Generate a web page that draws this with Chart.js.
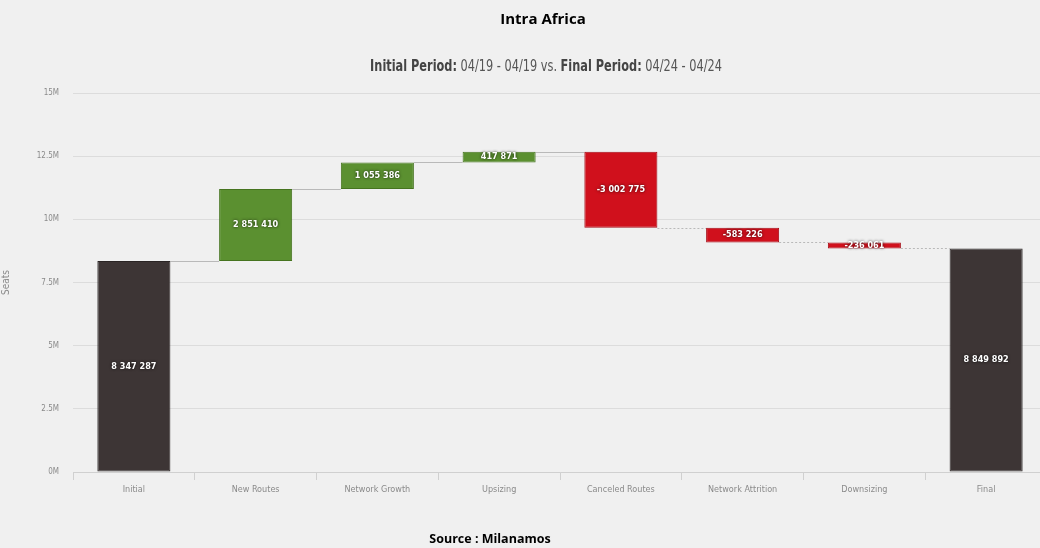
<!DOCTYPE html>
<html>
<head>
<meta charset="utf-8">
<script src="https://cdn.jsdelivr.net/npm/chart.js@4.4.1/dist/chart.umd.min.js"></script>
<style>
  html, body { margin: 0; padding: 0; background: #f0f0f0; overflow: hidden; }
  #wrap { position: relative; width: 1040px; height: 548px; overflow: hidden; }
  #title { position: absolute; top: 8px; left: 43px; width: 1000px; text-align: center;
    font: bold 15px "Open Sans", sans-serif; color: #000; }
  #subtitle { position: absolute; top: 57px; left: 46px; width: 1000px; text-align: center;
    font: 15px "DejaVu Sans Condensed", sans-serif; color: #555;
    transform: scaleX(0.84); transform-origin: 500px 0; }
  #subtitle b { color: #444; }
  #source { position: absolute; top: 530px; left: -10px; width: 1000px; text-align: center;
    font: bold 12.5px "Open Sans", sans-serif; color: #000; }
  canvas { position: absolute; top: 0; left: 0; }
</style>
</head>
<body>
<div id="wrap">
  <canvas id="chart" width="1047" height="548"></canvas>
  <div id="title">Intra Africa</div>
  <div id="subtitle"><b>Initial Period:</b> 04/19 - 04/19 vs. <b>Final Period:</b> 04/24 - 04/24</div>
  <div id="source">Source : Milanamos</div>
</div>
<script>
// ------------------ DATA ------------------
const categories = ["Initial", "New Routes", "Network Growth", "Upsizing", "Canceled Routes", "Network Attrition", "Downsizing", "Final"];
const changes = [8347287, 2851410, 1055386, 417871, -3002775, -583226, -236061, 8849892];
const kinds = ["total", "up", "up", "up", "down", "down", "down", "total"];
const yTicks = [0, 2500000, 5000000, 7500000, 10000000, 12500000, 15000000];

const colors = { total: "#3d3535", up: "#5b9030", down: "#d0101c" };
const borders = { total: "#2a2424", up: "#46741f", down: "#a50a14" };

// ------------------ BUILD FLOATING BARS ------------------
let running = 0;
const ranges = [];
changes.forEach((v, i) => {
  if (kinds[i] === "total") {
    ranges.push([0, v]);
    running = v;
  } else {
    ranges.push([running, running + v]);
    running += v;
  }
});

function fmt(n) {
  const s = Math.abs(n).toString().replace(/\B(?=(\d{3})+(?!\d))/g, " ");
  return (n < 0 ? "-" : "") + s;
}

const condensed = '"DejaVu Sans Condensed", sans-serif';

// ------------------ CONNECTORS + LABELS ------------------
const waterfallPlugin = {
  id: "waterfall",
  beforeDatasetsDraw(chart) {
    const { ctx, scales: { y } } = chart;
    const meta = chart.getDatasetMeta(0);
    ctx.save();
    ctx.lineWidth = 1;
    ctx.strokeStyle = "#b9b9b9";
    for (let i = 0; i < ranges.length - 1; i++) {
      const bar = meta.data[i], next = meta.data[i + 1];
      const yy = Math.round(y.getPixelForValue(ranges[i][1])) + 0.5;
      ctx.setLineDash(kinds[i] === "down" ? [2, 2] : []);
      ctx.beginPath();
      ctx.moveTo(bar.x + bar.width / 2, yy);
      ctx.lineTo(next.x - next.width / 2, yy);
      ctx.stroke();
    }
    ctx.restore();
  },
  afterDatasetsDraw(chart) {
    const { ctx } = chart;
    const meta = chart.getDatasetMeta(0);
    ctx.save();
    ctx.font = "bold 9px " + condensed;
    ctx.textAlign = "center";
    ctx.textBaseline = "middle";
    ctx.fillStyle = "#ffffff";
    ctx.shadowColor = "rgba(0,0,0,0.8)";
    ctx.shadowBlur = 3;
    meta.data.forEach((bar, i) => {
      const cy = (bar.y + bar.base) / 2;
      ctx.fillText(fmt(changes[i]), bar.x, cy);
    });
    ctx.restore();
  }
};

// ------------------ CHART ------------------
const ctx = document.getElementById("chart").getContext("2d");
new Chart(ctx, {
  type: "bar",
  data: {
    labels: categories,
    datasets: [{
      data: ranges,
      backgroundColor: kinds.map(k => colors[k]),
      borderColor: kinds.map(k => borders[k]),
      borderWidth: 1,
      borderSkipped: false,
      barPercentage: 0.6,
      categoryPercentage: 1.0,
    }],
  },
  options: {
    responsive: false,
    animation: false,
    layout: { padding: { top: 93, right: 0, bottom: 0, left: 0 } },
    plugins: { legend: { display: false }, tooltip: { enabled: false } },
    scales: {
      x: {
        grid: { drawOnChartArea: false, color: "#d0d0d0", tickLength: 8 },
        border: { color: "#d0d0d0" },
        ticks: { color: "#8a8a8a", font: { size: 9, family: condensed }, padding: 4 },
        afterFit: s => { s.height = 76; },
      },
      y: {
        min: 0,
        max: 15000000,
        afterBuildTicks: s => { s.ticks = yTicks.map(v => ({ value: v })); },
        grid: { color: "#dcdcdc", tickLength: 0 },
        border: { display: false },
        ticks: {
          color: "#8a8a8a",
          font: { size: 8, family: condensed },
          padding: 14,
          callback: v => (v / 1000000) + "M",
        },
        title: { display: true, text: "Seats", color: "#8a8a8a", font: { size: 10, family: condensed }, padding: { top: 0, bottom: 0 } },
        afterFit: s => { s.width = 73; },
      },
    },
  },
  plugins: [waterfallPlugin],
});
</script>
</body>
</html>
